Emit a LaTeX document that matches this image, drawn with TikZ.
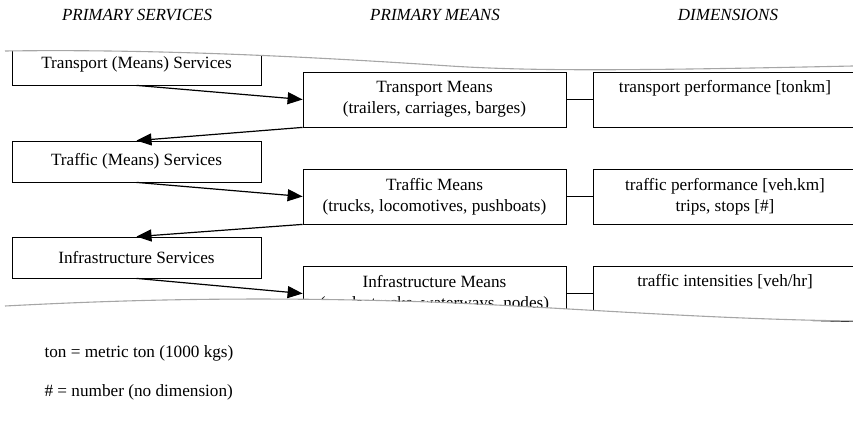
\documentclass[tikz,border=0pt]{standalone}
\usepackage{fontspec}
\setmainfont{Liberation Serif}
\usetikzlibrary{arrows, arrows.meta}
\usetikzlibrary{calc}

\begin{document}
\begin{tikzpicture}[x=1pt, y=-1pt,
    font=\fontsize{17.2}{20.7}\selectfont,
    svc/.style={draw, line width=0.8pt, minimum width=249pt, minimum height=41pt, inner sep=0pt},
    means/.style={draw, line width=0.8pt, minimum width=263pt, minimum height=55pt, inner sep=0pt, align=center},
    dim/.style={draw, line width=0.8pt, minimum width=264pt, minimum height=55pt, inner sep=0pt, align=center},
    flow/.style={line width=1.2pt, -{Triangle[length=15pt, width=12pt]}},
    head/.style={font=\fontsize{17}{20}\selectfont\itshape},
    torn/.style={draw=black!35, line width=1.1pt}]
      \useasboundingbox (0,0) rectangle (853,422);

      % column heads
      \node[head] (h1) at (137,15) {PRIMARY SERVICES};
      \node[head] (h2) at (435,15) {PRIMARY MEANS};
      \node[head] (h3) at (728,15) {DIMENSIONS};

      % torn-off window on the chain
      \begin{scope}
      \clip (0,51) .. controls (150,49) and (300,56) .. (450,66) .. controls (530,71) and (620,71) .. (853,66)
            -- (853,322) .. controls (700,319) and (560,307) .. (430,302) .. controls (250,296) and (120,300) .. (0,306) -- cycle;

      \node[svc] (s1) at (136.5,64.5) {Transport (Means) Services};
      \node[svc] (s2) at (136.5,161.5) {Traffic (Means) Services};
      \node[svc] (s3) at (136.5,257.5) {Infrastructure Services};

      \node[means] (m1) at (434.5,99.5) {Transport Means\\(trailers, carriages, barges)};
      \node[means] (m2) at (434.5,196.5) {Traffic Means\\(trucks, locomotives, pushboats)};
      \node[means] (m3) at (434.5,293.5) {Infrastructure Means\\(roads, tracks, waterways, nodes)};

      \node[dim] (d1) at (725,99.5) {transport performance [tonkm]\\\strut};
      \node[dim] (d2) at (725,196.5) {traffic performance [veh.km]\\trips, stops [\#]};
      \node[dim] (d3) at (725,293.5) {traffic intensities [veh/hr]\\\strut};

      \draw[line width=0.8pt] (m1) -- (d1);
      \draw[line width=0.8pt] (m2) -- (d2);
      \draw[line width=0.8pt] (m3) -- (d3);

      \draw[flow] (s1.south) -- (m1.west);
      \draw[flow] (m1.south west) -- (s2.north);
      \draw[flow] (s2.south) -- (m2.west);
      \draw[flow] (m2.south west) -- (s3.north);
      \draw[flow] (s3.south) -- (m3.west);
      \end{scope}

      % ragged edges
      \path[torn] (5,51) .. controls (150,49) and (300,56) .. (450,66) .. controls (530,71) and (620,71) .. (853,66);
      \path[torn] (5,306) .. controls (120,300) and (250,296) .. (430,302) .. controls (560,307) and (700,319) .. (853,321);

      % footnotes
      \node[anchor=base west] (n1) at (41,357) {ton = metric ton (1000 kgs)};
      \node[anchor=base west] (n2) at (41,396) {\# = number (no dimension)};
    \end{tikzpicture}
\end{document}
